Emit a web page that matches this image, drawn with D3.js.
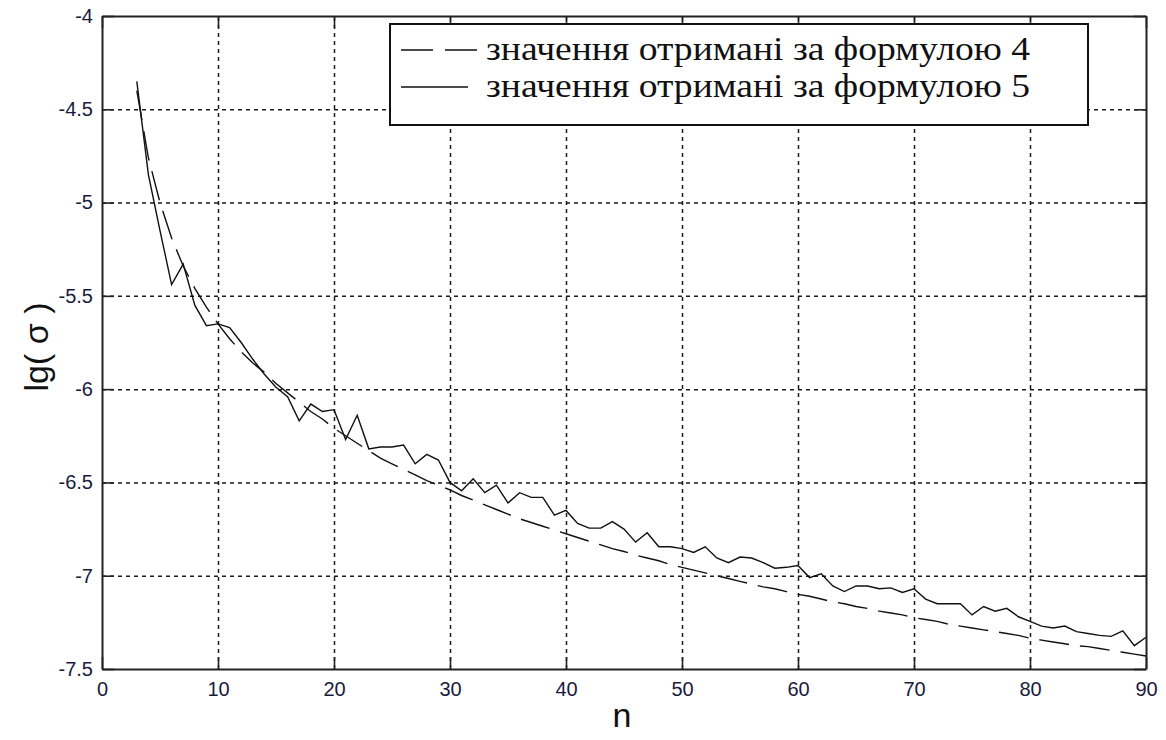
<!DOCTYPE html>
<html>
<head>
<meta charset="utf-8">
<script src="https://cdn.jsdelivr.net/npm/d3@7"></script>
<style>
  body { margin: 0; background: #fff; }
  svg { display: block; }
  .tick text { font-family: 'Liberation Sans', Arial, sans-serif; font-size: 20px; fill: #1a1a3c; }
  .grid line { stroke: #1a1a1a; stroke-width: 1.5; stroke-dasharray: 4,4; }
  .grid .domain { display: none; }
</style>
</head>
<body>
<div id="chart"></div>
<script>
// sample numbers n (integer steps shown on the x axis)
var nValues = d3.range(3, 91)

// lg(sigma) by formula 4 (dashed, smooth)
var formula4 = [
  -4.40, -4.76, -5.00, -5.19, -5.34, -5.46, -5.56, -5.65, -5.73, -5.80,
  -5.86, -5.91, -5.97, -6.02, -6.07, -6.12, -6.16, -6.21, -6.25, -6.29,
  -6.33, -6.37, -6.40, -6.43, -6.46, -6.49, -6.515, -6.54, -6.57, -6.595,
  -6.62, -6.645, -6.67, -6.695, -6.715, -6.735, -6.755, -6.775, -6.795, -6.815,
  -6.835, -6.855, -6.87, -6.89, -6.905, -6.92, -6.94, -6.955, -6.97, -6.985,
  -7.00, -7.015, -7.03, -7.045, -7.06, -7.07, -7.085, -7.10, -7.11, -7.125,
  -7.14, -7.15, -7.165, -7.175, -7.19, -7.20, -7.21, -7.225, -7.235, -7.245,
  -7.26, -7.27, -7.28, -7.29, -7.30, -7.31, -7.32, -7.335, -7.345, -7.355,
  -7.365, -7.375, -7.38, -7.39, -7.40, -7.41, -7.42, -7.43
]

// lg(sigma) by formula 5 (solid, noisy)
var formula5 = [
  -4.35, -4.85, -5.15, -5.44, -5.33, -5.55, -5.66, -5.65, -5.67, -5.75,
  -5.84, -5.92, -5.99, -6.04, -6.17, -6.08, -6.12, -6.11, -6.27, -6.14,
  -6.32, -6.31, -6.31, -6.30, -6.40, -6.35, -6.38, -6.50, -6.545, -6.48,
  -6.555, -6.515, -6.61, -6.555, -6.58, -6.58, -6.675, -6.65, -6.72, -6.745,
  -6.745, -6.71, -6.75, -6.82, -6.77, -6.845, -6.845, -6.855, -6.875, -6.845,
  -6.905, -6.93, -6.90, -6.905, -6.93, -6.96, -6.955, -6.945, -7.01, -6.99,
  -7.055, -7.085, -7.055, -7.055, -7.07, -7.065, -7.09, -7.07, -7.125, -7.15,
  -7.15, -7.15, -7.21, -7.165, -7.19, -7.175, -7.22, -7.245, -7.27, -7.28,
  -7.27, -7.30, -7.31, -7.32, -7.325, -7.295, -7.375, -7.33
]

var xTicks = [0, 10, 20, 30, 40, 50, 60, 70, 80, 90]
var yTicks = [-7.5, -7, -6.5, -6, -5.5, -5, -4.5, -4]
var yTickLabels = ['-7.5', '-7', '-6.5', '-6', '-5.5', '-5', '-4.5', '-4']
var legendLabels = ['значення отримані за формулою 4', 'значення отримані за формулою 5']

const width = 1166
const height = 740
const plot = { left: 102, right: 1146, top: 16, bottom: 669 }
const tickLen = 12

var svg = d3.select('#chart').append('svg')
  .attr('width', width)
  .attr('height', height)

svg.append('rect').attr('width', width).attr('height', height).attr('fill', '#fff')

var x = d3.scaleLinear().domain([0, 90]).range([plot.left, plot.right])
var y = d3.scaleLinear().domain([-7.5, -4]).range([plot.bottom, plot.top])
const plotW = plot.right - plot.left
const plotH = plot.bottom - plot.top

// dotted grid
svg.append('g').attr('class', 'grid')
  .attr('transform', 'translate(0,' + plot.bottom + ')')
  .call(d3.axisBottom(x).tickValues(xTicks.slice(1, -1)).tickSize(-plotH).tickFormat(''))
svg.append('g').attr('class', 'grid')
  .attr('transform', 'translate(' + plot.left + ',0)')
  .call(d3.axisLeft(y).tickValues(yTicks.slice(1, -1)).tickSize(-plotW).tickFormat(''))

// series
var line = d3.line()
  .x((d, i) => x(nValues[i]))
  .y(d => y(d))

svg.append('path')
  .datum(formula4)
  .attr('d', line)
  .attr('fill', 'none')
  .attr('stroke', '#111')
  .attr('stroke-width', 1.4)
  .attr('stroke-dasharray', '30,11')

svg.append('path')
  .datum(formula5)
  .attr('d', line)
  .attr('fill', 'none')
  .attr('stroke', '#111')
  .attr('stroke-width', 1.4)

// axes with inward ticks on all four sides (MATLAB style)
const styleAxis = g => {
  g.select('.domain').attr('stroke', '#222').attr('stroke-width', 2)
  g.selectAll('.tick line').attr('stroke', '#222').attr('stroke-width', 1.6)
}

svg.append('g')
  .attr('transform', 'translate(0,' + plot.bottom + ')')
  .call(d3.axisBottom(x).tickValues(xTicks).tickSize(-tickLen).tickSizeOuter(0).tickPadding(13))
  .call(styleAxis)

svg.append('g')
  .attr('transform', 'translate(0,' + plot.top + ')')
  .call(d3.axisTop(x).tickValues(xTicks).tickSize(-tickLen).tickSizeOuter(0).tickFormat(''))
  .call(styleAxis)

svg.append('g')
  .attr('transform', 'translate(' + plot.left + ',0)')
  .call(d3.axisLeft(y).tickValues(yTicks).tickSize(-tickLen).tickSizeOuter(0).tickPadding(9)
    .tickFormat((d, i) => yTickLabels[i]))
  .call(styleAxis)

svg.append('g')
  .attr('transform', 'translate(' + plot.right + ',0)')
  .call(d3.axisRight(y).tickValues(yTicks).tickSize(-tickLen).tickSizeOuter(0).tickFormat(''))
  .call(styleAxis)

// axis titles
svg.append('text')
  .attr('x', 622)
  .attr('y', 727)
  .attr('text-anchor', 'middle')
  .style('font-family', "'Liberation Sans', Arial, sans-serif")
  .style('font-size', '34px')
  .attr('fill', '#111')
  .text('n')

svg.append('text')
  .attr('transform', 'translate(48,347) rotate(-90)')
  .attr('text-anchor', 'middle')
  .style('font-family', "'Liberation Sans', Arial, sans-serif")
  .style('font-size', '34px')
  .attr('fill', '#111')
  .text('lg( σ )')

// legend
var legend = svg.append('g')
legend.append('rect')
  .attr('x', 390).attr('y', 24)
  .attr('width', 698).attr('height', 101)
  .attr('fill', '#fff')
  .attr('stroke', '#111')
  .attr('stroke-width', 2)

var legendRows = legend.selectAll('.legendRow')
  .data(legendLabels)
  .join('g')
  .classed('legendRow', true)
  .attr('transform', (d, i) => 'translate(0,' + (i * 37) + ')')

legendRows.append('line')
  .attr('x1', 401).attr('x2', (d, i) => i === 0 ? 477 : 468)
  .attr('y1', 50).attr('y2', 50)
  .attr('stroke', '#111')
  .attr('stroke-width', 1.3)
  .attr('stroke-dasharray', (d, i) => i === 0 ? '32,12' : null)

legendRows.append('text')
  .attr('x', 486)
  .attr('y', 60)
  .attr('textLength', 544)
  .attr('lengthAdjust', 'spacingAndGlyphs')
  .style('font-family', "'Liberation Serif', 'Times New Roman', serif")
  .style('font-size', '33px')
  .attr('fill', '#111')
  .text(d => d)
</script>
</body>
</html>
